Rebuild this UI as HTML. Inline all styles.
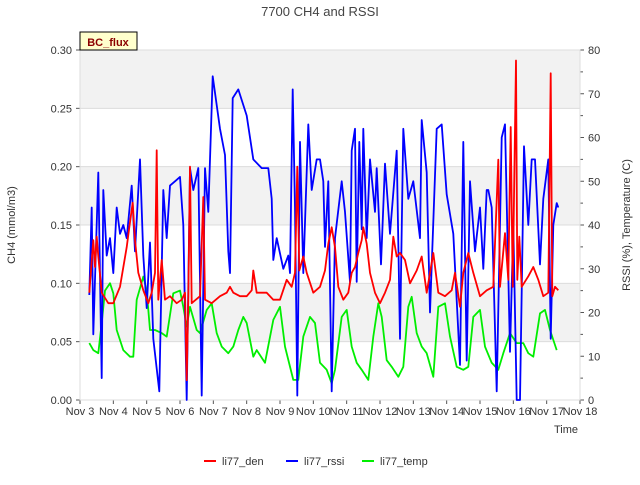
<!DOCTYPE html>
<html><head><meta charset="utf-8"><style>
body{margin:0;background:#fff;font-family:"Liberation Sans",sans-serif;}
svg text{font-family:"Liberation Sans",sans-serif;}
</style></head><body>
<svg id="c" width="640" height="480">
<text x="320" y="16" text-anchor="middle" font-size="13" fill="#444">7700 CH4 and RSSI</text>
<g id="bands"></g><g id="axes"></g><g id="series"></g>
<rect x="80" y="32" width="57" height="18" fill="#ffffcc" stroke="#000" stroke-width="1"/>
<text x="108" y="46" text-anchor="middle" font-size="11" font-weight="bold" fill="#8b0000">BC_flux</text>
<text x="15" y="225" transform="rotate(-90 15 225)" text-anchor="middle" font-size="11" fill="#333">CH4 (mmol/m3)</text>
<text x="630" y="225" transform="rotate(-90 630 225)" text-anchor="middle" font-size="11" fill="#333">RSSI (%), Temperature (C)</text>
<text x="566" y="433" text-anchor="middle" font-size="11" fill="#333">Time</text>
<g>
<line x1="204" y1="461" x2="216" y2="461" stroke="#ff0000" stroke-width="2"/>
<text x="222" y="465" font-size="11" fill="#333">li77_den</text>
<line x1="286" y1="461" x2="298" y2="461" stroke="#0000ff" stroke-width="2"/>
<text x="304" y="465" font-size="11" fill="#333">li77_rssi</text>
<line x1="362" y1="461" x2="374" y2="461" stroke="#00ee00" stroke-width="2"/>
<text x="380" y="465" font-size="11" fill="#333">li77_temp</text>
</g>
</svg>
<script>
const xTickLabels=["Nov 3","Nov 4","Nov 5","Nov 6","Nov 7","Nov 8","Nov 9","Nov 10","Nov 11","Nov 12","Nov 13","Nov 14","Nov 15","Nov 16","Nov 17","Nov 18"];
const leftTicks=[0,0.05,0.10,0.15,0.20,0.25,0.30];
const rightTicks=[0,10,20,30,40,50,60,70,80];
const denDays=[0.28,0.4,0.45,0.5,0.55,0.65,0.85,1,1.2,1.4,1.48,1.58,1.65,1.75,1.9,2.05,2.15,2.25,2.3,2.35,2.45,2.55,2.7,2.9,3.05,3.15,3.2,3.25,3.3,3.35,3.6,3.7,3.75,3.95,4.2,4.4,4.5,4.6,4.8,5,5.15,5.2,5.3,5.6,5.8,6,6.2,6.35,6.45,6.52,6.58,6.7,6.8,7,7.2,7.35,7.45,7.55,7.65,7.75,7.9,8.05,8.15,8.25,8.35,8.45,8.5,8.6,8.7,8.85,9,9.15,9.3,9.4,9.5,9.6,9.75,9.9,10.1,10.25,10.4,10.6,10.75,10.95,11.15,11.25,11.4,11.5,11.65,11.8,12,12.2,12.4,12.55,12.6,12.75,12.85,12.92,12.98,13.08,13.12,13.18,13.25,13.45,13.6,13.75,13.9,14.05,14.12,14.17,14.25,14.35];
const denVals=[0.092,0.137,0.114,0.140,0.123,0.092,0.083,0.083,0.097,0.131,0.148,0.169,0.137,0.109,0.094,0.083,0.092,0.109,0.214,0.086,0.12,0.086,0.089,0.083,0.086,0.092,0.017,0.086,0.2,0.083,0.089,0.174,0.086,0.083,0.089,0.092,0.097,0.092,0.089,0.089,0.094,0.111,0.092,0.092,0.086,0.086,0.103,0.097,0.109,0.2,0.111,0.123,0.109,0.092,0.097,0.111,0.134,0.148,0.131,0.097,0.086,0.092,0.109,0.114,0.126,0.137,0.148,0.134,0.109,0.092,0.083,0.092,0.103,0.14,0.123,0.126,0.12,0.1,0.111,0.123,0.092,0.126,0.092,0.089,0.094,0.109,0.08,0.109,0.126,0.109,0.089,0.094,0.097,0.206,0.097,0.143,0.103,0.234,0.097,0.291,0.103,0.14,0.097,0.106,0.114,0.103,0.089,0.092,0.28,0.089,0.097,0.094];
const rssiDays=[0.28,0.35,0.4,0.55,0.65,0.7,0.8,0.9,1,1.1,1.2,1.3,1.4,1.55,1.65,1.8,1.9,2,2.1,2.2,2.38,2.5,2.6,2.7,2.85,3,3.1,3.2,3.3,3.4,3.55,3.65,3.75,3.85,3.98,4.2,4.35,4.45,4.5,4.58,4.75,5,5.2,5.45,5.65,5.75,5.8,5.9,6.1,6.25,6.3,6.38,6.45,6.52,6.6,6.7,6.85,6.95,7.1,7.2,7.3,7.35,7.45,7.55,7.65,7.85,7.95,8.1,8.15,8.25,8.3,8.38,8.45,8.5,8.6,8.7,8.85,8.9,9.03,9.15,9.3,9.5,9.6,9.7,9.85,10,10.2,10.25,10.4,10.5,10.7,10.85,11,11.2,11.4,11.5,11.6,11.7,11.85,12,12.1,12.2,12.25,12.35,12.5,12.65,12.75,12.9,13,13.1,13.2,13.32,13.45,13.55,13.65,13.8,13.9,14.05,14.12,14.2,14.3,14.35];
const rssiVals=[24,44,15,52,5,48,33,37,29,44,38,40,37,49,34,55,33,21,36,14,2,48,37,49,50,51,40,0,53,48,53,1,53,43,74,62,56,34,29,69,71,65,55,53,53,46,32,37,30,33,29,71,44,1,59,29,63,48,55,55,50,35,50,2,37,50,43,27,57,62,27,59,39,62,37,55,43,53,31,54,38,57,14,62,46,50,37,64,52,20,62,63,47,38,8,59,9,50,34,44,30,48,48,44,2,60,63,11,40,0,0,58,40,55,55,31,46,55,14,40,45,44];
const tempDays=[0.28,0.4,0.55,0.65,0.75,0.9,1,1.1,1.3,1.5,1.6,1.7,1.9,2,2.1,2.25,2.45,2.6,2.8,3,3.1,3.2,3.3,3.5,3.6,3.8,3.95,4.1,4.25,4.45,4.6,4.75,4.9,5,5.2,5.3,5.55,5.8,6,6.15,6.4,6.55,6.7,6.9,7.05,7.2,7.4,7.55,7.65,7.85,8,8.15,8.3,8.45,8.65,8.8,8.95,9.05,9.2,9.35,9.55,9.7,9.85,9.95,10.1,10.25,10.4,10.6,10.75,10.95,11.1,11.3,11.5,11.65,11.8,12,12.15,12.35,12.55,12.7,12.9,13.1,13.3,13.45,13.6,13.8,13.95,14.1,14.3];
const tempVals=[13,11.4,10.7,17.6,25,26.7,24.4,16,11.4,9.9,9.9,22.9,28.2,25,16,16,15.3,14.5,24.4,25,21.3,16.8,21.3,16,15.3,20.6,22.1,15.3,12.2,10.7,12.2,16,19,17.6,9.9,11.4,8.5,18.3,21.3,12.2,4.6,4.6,14.5,19,17.6,8.5,6.9,3.8,6.9,19,20.6,12.2,8.5,6.9,4.6,14.5,22.1,19,9.1,7.6,5.3,7.6,21.3,23.6,15.3,12.2,10.7,5.3,21.3,22.1,14.5,7.6,6.9,7.6,19,20.6,12.2,8.5,6.9,10.7,15.3,13,13,10.7,9.9,19.8,20.6,16,11.4];
const X0=80,X1=580,Y0=400,Y1=50;
const xs=d=>X0+d*(X1-X0)/15;
const yl=v=>Y0-v/0.3*(Y0-Y1);
const yr=v=>Y0-v/80*(Y0-Y1);
const NS="http://www.w3.org/2000/svg";
function mk(t,a,p){const e=document.createElementNS(NS,t);for(const k in a)e.setAttribute(k,a[k]);p.appendChild(e);return e;}
const bands=document.getElementById('bands'),axes=document.getElementById('axes'),ser=document.getElementById('series');
mk('rect',{x:X0,y:Y1,width:X1-X0,height:Y0-Y1,fill:'#fff'},bands);
[[0.25,0.3],[0.15,0.2],[0.05,0.1]].forEach(b=>{const r=mk('rect',{x:X0,y:yl(b[1]),width:X1-X0,height:yl(b[0])-yl(b[1]),fill:'#f2f2f2'},bands);

});
leftTicks.forEach(v=>{mk('line',{x1:X0,x2:X1,y1:yl(v),y2:yl(v),stroke:'#dcdcdc','stroke-width':1},axes);
mk('line',{x1:X0-4,x2:X0,y1:yl(v),y2:yl(v),stroke:'#555'},axes);
const t=mk('text',{x:X0-8,y:yl(v)+4,'text-anchor':'end','font-size':11,fill:'#333'},axes);t.textContent=v.toFixed(2);

});
rightTicks.forEach(v=>{mk('line',{x1:X1,x2:X1+4,y1:yr(v),y2:yr(v),stroke:'#555'},axes);
if(v<80)mk('line',{x1:X1,x2:X1+3,y1:yr(v+5),y2:yr(v+5),stroke:'#555'},axes);
const t=mk('text',{x:X1+8,y:yr(v)+4,'font-size':11,fill:'#333'},axes);t.textContent=v;

});
xTickLabels.forEach((s,i)=>{mk('line',{x1:xs(i),x2:xs(i),y1:Y0,y2:Y0+4,stroke:'#555'},axes);
const t=mk('text',{x:xs(i),y:Y0+15,'text-anchor':'middle','font-size':11,fill:'#333'},axes);t.textContent=s;

});
mk('rect',{x:X0,y:Y1,width:X1-X0,height:Y0-Y1,fill:'none',stroke:'#ddd'},axes);
function line(days,vals,ys,col,name){const pts=days.map((d,i)=>xs(d).toFixed(1)+','+ys(vals[i]).toFixed(1)).join(' ');
const p=mk('polyline',{points:pts,fill:'none',stroke:col,'stroke-width':1.8,'stroke-linejoin':'round'},ser);

}
line(tempDays,tempVals,yr,'#00ee00','temp-line');
line(rssiDays,rssiVals,yr,'#0000ff','rssi-line');
line(denDays,denVals,yl,'#ff0000','den-line');
</script>
</body></html>
